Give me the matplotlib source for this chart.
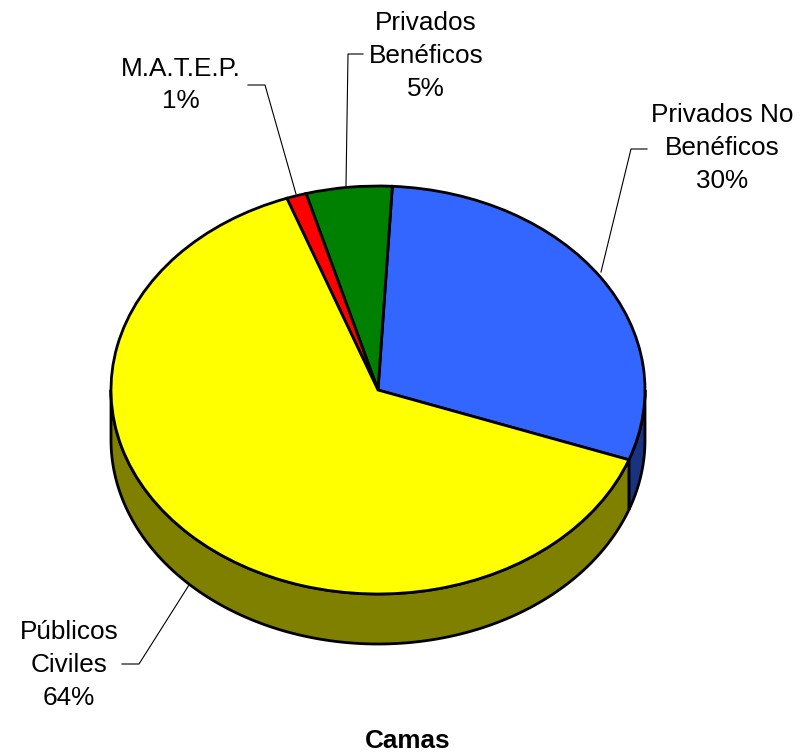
import numpy as np
import matplotlib
matplotlib.use("Agg")
import matplotlib.pyplot as plt

plt.rcParams['font.family'] = ['Liberation Sans', 'DejaVu Sans']

# slice shares, going counter clockwise from the yellow/blue edge
names = ["Privados No\nBenéficos\n30%", "Privados\nBenéficos\n5%", "M.A.T.E.P.\n1%", "Públicos\nCiviles\n64%"]
shares = [29.7, 5.2, 1.2, 63.9]
top_colors = ["#3366FF", "#008000", "#FF0000", "#FFFF00"]
side_colors = ["#1A3380", "#004000", "#800000", "#808000"]
title = "Camas"

W, H = 812, 756
cx, cy = 378, 390   # pie centre in pixels
rx, ry = 267, 204   # ellipse radii
depth = 50 / ry     # height of the rim, in axis units


def px(x, y):
    # picture pixels to axis units
    return (x - cx) / rx, (cy - y) / ry


fig = plt.figure(figsize=(W / 100, H / 100), dpi=100)
ax = fig.add_axes([0, 0, 1, 1])

wedges, _ = ax.pie(shares, colors=top_colors, startangle=-20, counterclock=True,
                   wedgeprops={"edgecolor": "black", "linewidth": 2.0, "zorder": 3})

# rim: only the part of each wedge that faces the viewer
for w, col in zip(wedges, side_colors):
    a = w.theta1 % 360
    b = a + (w.theta2 - w.theta1)
    for lo, hi in [(180, 360), (540, 720)]:
        s, e = max(a, lo), min(b, hi)
        if e <= s:
            continue
        t = np.radians(np.linspace(s, e, 200))
        xs = np.cos(t)
        ys = np.sin(t)
        ax.fill(np.r_[xs, xs[::-1]], np.r_[ys, ys[::-1] - depth], facecolor=col,
                edgecolor="black", linewidth=2.0, joinstyle="round", zorder=2)

ax.set_aspect("auto")
ax.set_xlim(px(0, 0)[0], px(W, 0)[0])
ax.set_ylim(px(0, H)[1], px(0, 0)[1])
ax.axis("off")

# leader lines
leaders = [
    [(601, 272), (631, 149), (647, 149)],
    [(346, 186), (348, 54), (363, 54)],
    [(296, 194), (265, 85), (248, 85)],
    [(189, 585), (139, 664), (122, 664)],
]
for pts in leaders:
    q = [px(*p) for p in pts]
    ax.plot([p[0] for p in q], [p[1] for p in q], color="black", lw=0.8, zorder=4)

# labels
label_pos = [(722, 148), (426, 56), (181, 85), (69, 665)]
for name, (x, y) in zip(names, label_pos):
    X, Y = px(x, y)
    ax.text(X, Y, name, ha="center", va="center", fontsize=18.8, color="black",
            linespacing=1.45, zorder=5)

X, Y = px(408, 741)
ax.text(X, Y, title, ha="center", va="center", fontsize=18.8, fontweight="bold", color="black")

fig.savefig("out.png", dpi=100)
